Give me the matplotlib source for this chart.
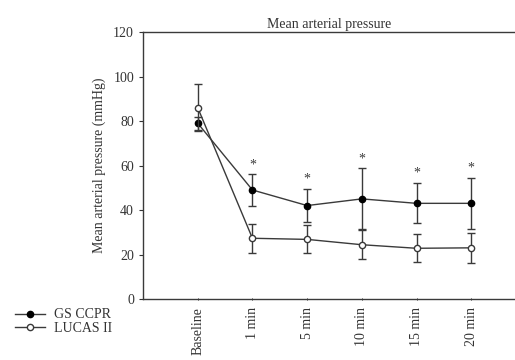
import matplotlib.pyplot as plt
from matplotlib.lines import Line2D
import numpy as np

plt.rcParams['font.family'] = ['Liberation Serif', 'DejaVu Serif']

timepoints = ["Baseline", "1 min", "5 min", "10 min", "15 min", "20 min"]
gs_mean = [79, 49, 42, 45, 43, 43]
gs_err = [3, 7, 7.5, 13.7, 9, 11.5]
lucas_mean = [86, 27.3, 26.8, 24.4, 22.8, 23]
lucas_err = [10.7, 6.5, 6.3, 6.6, 6.3, 6.8]
star_y = [None, 60, 54, 63, 56.6, 58.7]

col = "#3a3a3a"
txt = "#333333"
fig = plt.figure(figsize=(5.15, 3.6), dpi=100)
ax = fig.add_axes([0.2777, 0.1694, 0.7223, 0.7417])
x = np.arange(len(timepoints))

ax.errorbar(x, gs_mean, yerr=gs_err, color=col, marker='o', markersize=4.5,
            markerfacecolor='black', markeredgecolor='black', linewidth=1,
            elinewidth=1, capsize=3, zorder=3)
ax.errorbar(x, lucas_mean, yerr=lucas_err, color=col, marker='o', markersize=4.5,
            markerfacecolor='white', markeredgecolor=col, linewidth=1,
            elinewidth=1, capsize=3, zorder=4)

for xi, sy in zip(x, star_y):
    if sy is not None:
        ax.text(xi, sy, "*", ha='center', va='center', fontsize=10, color=col)

ax.set_xlim(-1, 5.8)
ax.set_ylim(0, 120)
ax.set_yticks(range(0, 121, 20))
ax.set_xticks(x)
ax.set_xticklabels(timepoints, rotation=90, fontsize=10, color=txt)
ax.tick_params(axis='y', labelsize=10, colors=txt, length=3, width=0.8)
ax.tick_params(axis='x', length=2, width=0.6, direction='inout', pad=5)
ax.spines['right'].set_visible(False)
for s in ['left', 'top', 'bottom']:
    ax.spines[s].set_color(col)
    ax.spines[s].set_linewidth(1)
ax.set_ylabel("Mean arterial pressure (mmHg)", fontsize=10, color=txt, labelpad=5)
ax.set_title("Mean arterial pressure", fontsize=10, color=txt, pad=3)

# legend sits outside the axes, bottom-left corner of the figure
handles = [
    Line2D([], [], color=col, marker='o', markersize=4.5, markerfacecolor='black',
           markeredgecolor='black', linewidth=1),
    Line2D([], [], color=col, marker='o', markersize=4.5, markerfacecolor='white',
           markeredgecolor=col, linewidth=1),
]
fig.legend(handles, ["GS CCPR", "LUCAS II"], loc='lower left',
           bbox_to_anchor=(0.015, 0.05), frameon=False, fontsize=10,
           handlelength=2.2, handletextpad=0.6, labelspacing=0.05,
           labelcolor=txt, borderpad=0)

fig.savefig("out.png", dpi=100)
